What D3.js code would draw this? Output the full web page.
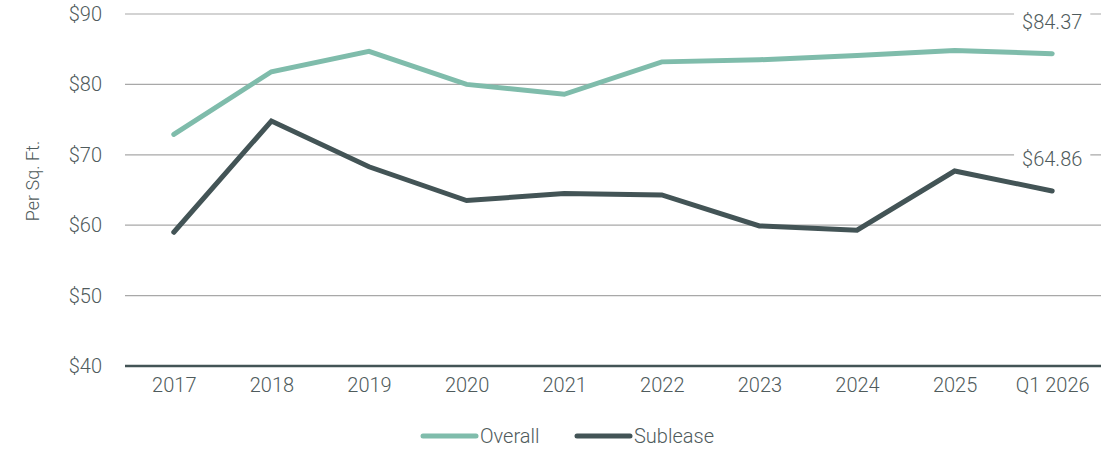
<!DOCTYPE html>
<html>
<head>
<meta charset="utf-8">
<script src="https://cdn.jsdelivr.net/npm/d3@7"></script>
<style>
  html, body { margin: 0; padding: 0; background: #ffffff; }
  svg { display: block; font-family: Roboto, "Noto Sans", sans-serif; font-weight: 300; }
</style>
</head>
<body>
<svg id="chart" width="1117" height="451"></svg>
<script>
// Asking rents per square foot, overall vs sublease
const categories = ["2017", "2018", "2019", "2020", "2021", "2022", "2023", "2024", "2025", "Q1 2026"];
const overall  = [72.9, 81.8, 84.7, 80.0, 78.6, 83.2, 83.5, 84.1, 84.8, 84.37];
const sublease = [59.0, 74.8, 68.3, 63.5, 64.5, 64.3, 59.9, 59.3, 67.7, 64.86];
const yTicks = [40, 50, 60, 70, 80, 90];
const seriesNames = ["Overall", "Sublease"];
const seriesColors = ["#7fbcab", "#435456"];

const svg = d3.select("#chart");
const plotLeft = 125, plotRight = 1101, plotTop = 14, plotBottom = 366;
const textColor = "#4f5b5c";
const fontSize = 20;

const x = d3.scalePoint().domain(categories).range([plotLeft, plotRight]).padding(0.5);
const y = d3.scaleLinear().domain([40, 90]).range([plotBottom, plotTop]);

// Horizontal gridlines
svg.append("g")
  .selectAll("line")
  .data(yTicks.filter(d => d !== 40))
  .join("line")
  .attr("x1", plotLeft).attr("x2", plotRight)
  .attr("y1", d => y(d)).attr("y2", d => y(d))
  .attr("stroke", "#a8a8a8")
  .attr("stroke-width", 1.2);

// Y axis labels
const yAxis = svg.append("g")
  .attr("transform", `translate(${plotLeft},0)`)
  .call(d3.axisLeft(y).tickValues(yTicks).tickFormat(d => "$" + d).tickSize(0).tickPadding(23));
yAxis.select(".domain").remove();
yAxis.selectAll("text")
  .attr("font-size", fontSize)
  .attr("fill", textColor)
  .attr("font-family", "Roboto, sans-serif");

// X axis with a heavy baseline
const xAxis = svg.append("g")
  .attr("transform", `translate(0,${plotBottom})`)
  .call(d3.axisBottom(x).tickSize(0).tickPadding(12));
xAxis.select(".domain").remove();
xAxis.selectAll("text")
  .attr("font-size", fontSize)
  .attr("fill", textColor)
  .attr("font-family", "Roboto, sans-serif");
svg.append("line")
  .attr("x1", plotLeft).attr("x2", plotRight)
  .attr("y1", y(40)).attr("y2", y(40))
  .attr("stroke", "#435456")
  .attr("stroke-width", 2.6);

// Axis title
svg.append("text")
  .attr("transform", `translate(33,181) rotate(-90)`)
  .attr("text-anchor", "middle")
  .attr("dy", "0.35em")
  .attr("font-size", 18)
  .attr("fill", textColor)
  .text("Per Sq. Ft.");

// Series lines
const line = d3.line().x((d, i) => x(categories[i])).y(d => y(d));
[overall, sublease].forEach((vals, s) => {
  svg.append("path")
    .datum(vals)
    .attr("d", line)
    .attr("fill", "none")
    .attr("stroke", seriesColors[s])
    .attr("stroke-width", 5)
    .attr("stroke-linejoin", "miter")
    .attr("stroke-linecap", "round");
});

// Latest value callouts
const lastCat = categories[categories.length - 1];
const callouts = [
  { v: overall[overall.length - 1], cy: y(90) + 8 },
  { v: sublease[sublease.length - 1], cy: y(70) + 4 }
];
callouts.forEach(c => {
  const g = svg.append("g");
  const t = g.append("text")
    .attr("x", x(lastCat))
    .attr("y", c.cy)
    .attr("dy", "0.35em")
    .attr("text-anchor", "middle")
    .attr("font-size", fontSize)
    .attr("fill", textColor)
    .text("$" + c.v.toFixed(2));
  const bb = t.node().getBBox();
  g.insert("rect", "text")
    .attr("x", bb.x - 8).attr("y", bb.y - 2)
    .attr("width", bb.width + 16).attr("height", bb.height + 4)
    .attr("fill", "#ffffff");
});

// Legend
const legendItems = [
  { name: seriesNames[0], color: seriesColors[0], x0: 423 },
  { name: seriesNames[1], color: seriesColors[1], x0: 577 }
];
const ly = 436;
legendItems.forEach(it => {
  svg.append("line")
    .attr("x1", it.x0).attr("x2", it.x0 + 53)
    .attr("y1", ly).attr("y2", ly)
    .attr("stroke", it.color)
    .attr("stroke-width", 5)
    .attr("stroke-linecap", "round");
  svg.append("text")
    .attr("x", it.x0 + 57)
    .attr("y", ly)
    .attr("dy", "0.35em")
    .attr("font-size", fontSize)
    .attr("fill", textColor)
    .text(it.name);
});
</script>
</body>
</html>
